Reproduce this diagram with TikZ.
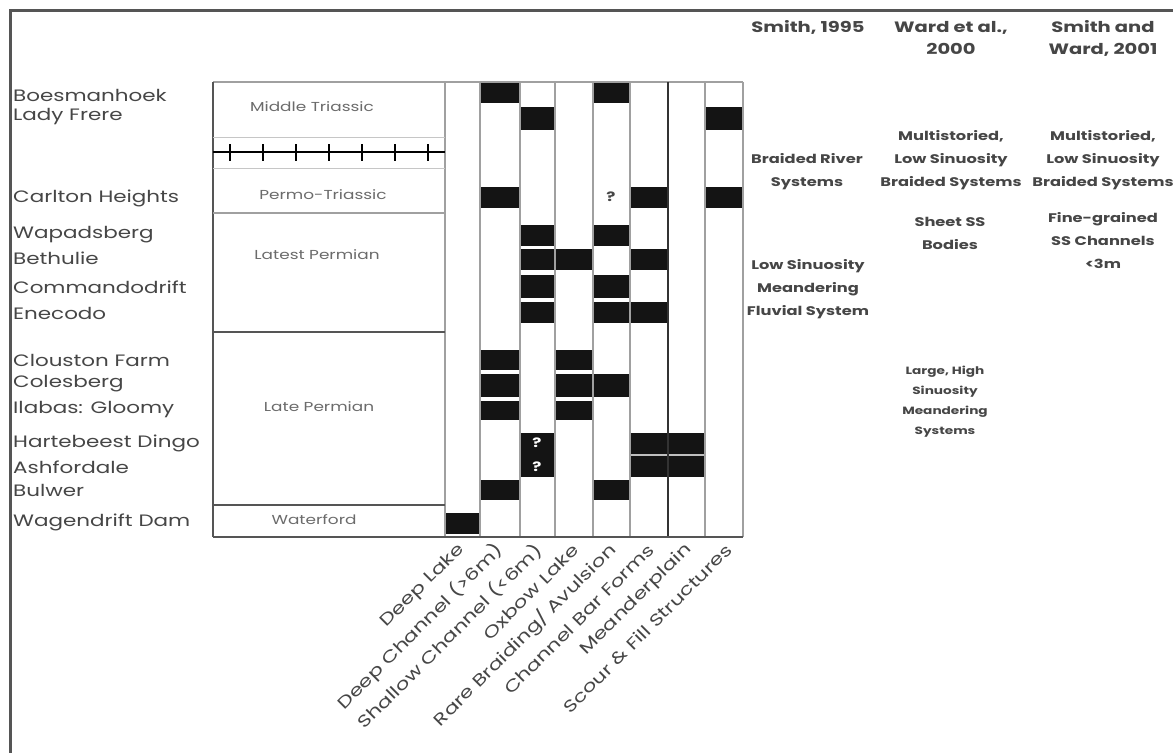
\documentclass[tikz,border=0pt]{standalone}
\usepackage{fontspec}
\setmainfont{Poppins}[FakeStretch=1.3]
\usepackage{xcolor}
\usepackage{tikz}
\definecolor{framegray}{RGB}{85, 85, 85}
\definecolor{linegray}{RGB}{160, 160, 160}
\definecolor{textgray}{RGB}{70, 70, 70}
\definecolor{cellblack}{RGB}{20, 20, 20}
\usetikzlibrary{positioning}

\begin{document}
\begin{tikzpicture}[x=1pt, y=-1pt]
    \tikzstyle{site} = [anchor=west, inner sep=0pt, font=\fontsize{16.5}{18}\selectfont, text=textgray]
    \tikzstyle{age} = [inner sep=0pt, font=\fontsize{13}{15}\selectfont, text=textgray!80]
    \tikzstyle{facies} = [anchor=east, rotate=45, inner sep=0pt, font=\fontsize{16.5}{18}\selectfont, text=textgray]
    \tikzstyle{author} = [align=center, inner sep=0pt, font=\fontsize{15}{22}\selectfont\bfseries, text=textgray]
    \tikzstyle{model} = [align=center, inner sep=0pt, font=\fontsize{12.5}{23}\selectfont\bfseries, text=textgray]
    \tikzstyle{cell} = [fill=cellblack]
    \tikzstyle{query} = [text=white, inner sep=0pt, font=\fontsize{13}{13}\selectfont\bfseries]

    \useasboundingbox (0,0) rectangle (1173,753);
    \fill[white] (0,0) rectangle (1173,753);

    % Frame
    \draw[framegray, line width=3pt] (1173,10) -- (10,10) -- (10,753);

    % Black cells
    \fill[cell] (480,82) rectangle (520,103);
    \fill[cell] (593,82) rectangle (630,103);
    \fill[cell] (520,107) rectangle (555,130);
    \fill[cell] (705,107) rectangle (743,130);
    \fill[cell] (480,187) rectangle (520,208);
    \fill[cell] (630,187) rectangle (668,208);
    \fill[cell] (705,187) rectangle (743,208);
    \fill[cell] (520,225) rectangle (555,246);
    \fill[cell] (593,225) rectangle (630,246);
    \fill[cell] (520,249) rectangle (593,270);
    \fill[cell] (630,249) rectangle (668,270);
    \fill[cell] (520,275) rectangle (555,298);
    \fill[cell] (593,275) rectangle (630,298);
    \fill[cell] (520,302) rectangle (555,323);
    \fill[cell] (593,302) rectangle (668,323);
    \fill[cell] (480,350) rectangle (520,370);
    \fill[cell] (555,350) rectangle (593,370);
    \fill[cell] (480,374) rectangle (520,397);
    \fill[cell] (555,374) rectangle (630,397);
    \fill[cell] (480,401) rectangle (520,420);
    \fill[cell] (555,401) rectangle (593,420);
    \fill[cell] (520,433) rectangle (555,477);
    \fill[cell] (630,433) rectangle (705,477);
    \fill[white!75!black] (630,454) rectangle (705,456);
    \fill[cell] (480,480) rectangle (520,500);
    \fill[cell] (593,480) rectangle (630,500);
    \fill[cell] (445,513) rectangle (480,534);

    % Query marks
    \node[query, text=textgray] (q1) at (611,197) {?};
    \node[query] (q2) at (537,443) {?};
    \node[query] (q3) at (537,467) {?};

    % Columns
    \draw[linegray, line width=1.5pt] (213,82) -- (743,82);
    \draw[linegray, line width=1.5pt] (445,82) -- (445,537);
    \draw[linegray, line width=1.5pt] (480,82) -- (480,537);
    \draw[linegray, line width=1.5pt] (520,82) -- (520,537);
    \draw[linegray, line width=1.5pt] (555,82) -- (555,537);
    \draw[linegray, line width=1.5pt] (593,82) -- (593,537);
    \draw[linegray, line width=1.5pt] (630,82) -- (630,537);
    \draw[black!80, line width=1.8pt] (668,82) -- (668,537);
    \draw[linegray, line width=1.5pt] (705,82) -- (705,537);
    \draw[linegray, line width=1.5pt] (743,82) -- (743,537);

    % Stratigraphic column
    \draw[framegray, line width=1.5pt] (213,82) -- (213,537);
    \draw[linegray!60, line width=1pt] (213,137) -- (445,137);
    \draw[linegray!60, line width=1pt] (213,168) -- (445,168);
    \draw[linegray, line width=1.5pt] (213,213) -- (445,213);
    \draw[framegray, line width=1.5pt] (213,332) -- (445,332);
    \draw[framegray, line width=1.5pt] (213,505) -- (445,505);
    \draw[framegray, line width=2pt] (213,537) -- (743,537);
    \draw[black, line width=2pt] (213,152) -- (445,152);
    \draw[black, line width=1.8pt] (230,144) -- (230,161);
    \draw[black, line width=1.8pt] (263,144) -- (263,161);
    \draw[black, line width=1.8pt] (296,144) -- (296,161);
    \draw[black, line width=1.8pt] (329,144) -- (329,161);
    \draw[black, line width=1.8pt] (362,144) -- (362,161);
    \draw[black, line width=1.8pt] (395,144) -- (395,161);
    \draw[black, line width=1.8pt] (428,144) -- (428,161);

    \node[age] (midtri) at (312,107) {Middle Triassic};
    \node[age] (permotri) at (323,195) {Permo-Triassic};
    \node[age] (latestperm) at (317,255) {Latest Permian};
    \node[age] (lateperm) at (319,407) {Late Permian};
    \node[age] (waterford) at (314,520) {Waterford};

    % Sites
    \node[site] (boesman) at (13,95) {Boesmanhoek};
    \node[site] (ladyfrere) at (13,117) {Lady Frere};
    \node[site] (carlton) at (13,198) {Carlton Heights};
    \node[site] (wapads) at (13,235) {Wapadsberg};
    \node[site] (bethulie) at (13,258) {Bethulie};
    \node[site] (commando) at (13,287) {Commandodrift};
    \node[site] (enecodo) at (13,313) {Enecodo};
    \node[site] (clouston) at (13,360) {Clouston Farm};
    \node[site] (colesberg) at (13,384) {Colesberg};
    \node[site] (gloomy) at (13,410) {Ilabas: Gloomy};
    \node[site] (hartebeest) at (13,443) {Hartebeest Dingo};
    \node[site] (ashford) at (13,467) {Ashfordale};
    \node[site] (bulwer) at (13,490) {Bulwer};
    \node[site] (wagendrift) at (13,522) {Wagendrift Dam};

    % Facies
    \node[facies] (deeplake) at (462,547) {Deep Lake};
    \node[facies] (deepchan) at (500,547) {Deep Channel (>6m)};
    \node[facies] (shallowchan) at (539,547) {Shallow Channel (<6m)};
    \node[facies] (oxbow) at (576,547) {Oxbow Lake};
    \node[facies] (braiding) at (613,547) {Rare Braiding/ Avulsion};
    \node[facies] (barforms) at (651,547) {Channel Bar Forms};
    \node[facies] (meander) at (689,547) {Meanderplain};
    \node[facies] (scour) at (729,547) {Scour \& Fill Structures};

    % Interpretations
    \node[author] (smith) at (808,27) {Smith, 1995};
    \node[author] (ward) at (951,38) {Ward et al.,\\2000};
    \node[author] (smithward) at (1103,38) {Smith and\\Ward, 2001};

    \node[model] (braided) at (807,172) {Braided River\\Systems};
    \node[model] (lowsin) at (808,289) {Low Sinuosity\\Meandering\\Fluvial System};
    \node[model] (multi1) at (951,160) {Multistoried,\\Low Sinuosity\\Braided Systems};
    \node[model] (sheet) at (950,233) {Sheet SS\\Bodies};
    \node[model, font=\fontsize{10.5}{20}\selectfont\bfseries] (large) at (945,402) {Large, High\\Sinuosity\\Meandering\\Systems};
    \node[model] (multi2) at (1103,160) {Multistoried,\\Low Sinuosity\\Braided Systems};
    \node[model] (fine) at (1103,241) {Fine-grained\\SS Channels\\<3m};
\end{tikzpicture}
\end{document}
